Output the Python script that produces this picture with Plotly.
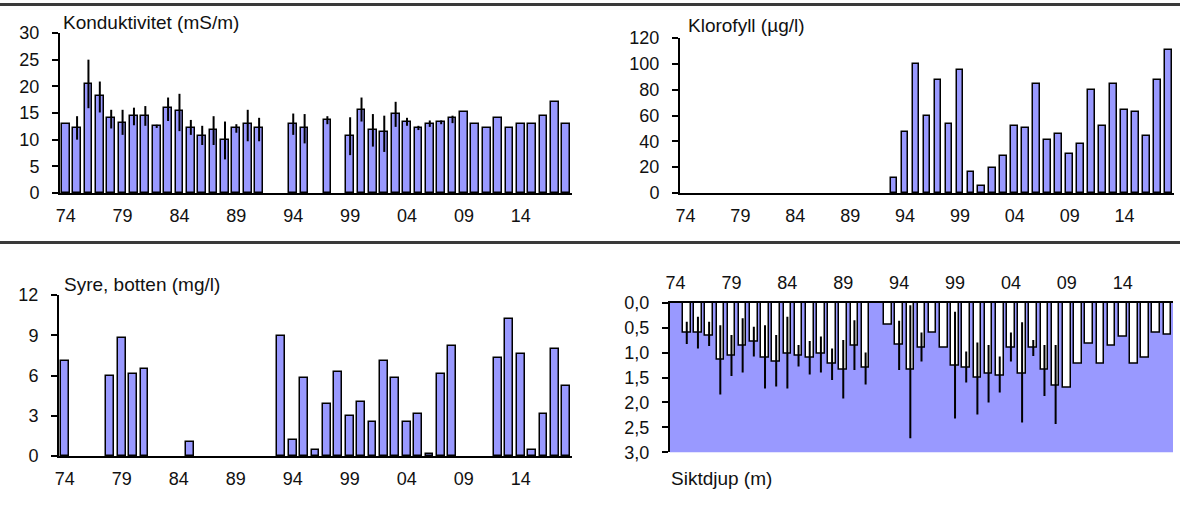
import plotly.graph_objects as go

# ---- data -------------------------------------------------------------
years = list(range(1974, 2019))
tick_years = [1974, 1979, 1984, 1989, 1994, 1999, 2004, 2009, 2014]
tick_text = ["74", "79", "84", "89", "94", "99", "04", "09", "14"]

# Konduktivitet (mS/m): mean, min, max per year
kond_mean = [12.9, 12.2, 20.5, 18.2, 14.1, 13.2, 14.4, 14.4, 12.5, 16.0,
             15.3, 12.2, 10.7, 11.8, 9.9, 12.2, 12.9, 12.2, None, None,
             12.9, 12.2, None, 13.7, None, 10.7, 15.6, 11.8, 11.4, 14.8,
             13.3, 12.2, 12.9, 13.3, 14.1, 15.2, 12.9, 12.2, 14.1, 12.2,
             12.9, 12.9, 14.4, 17.1, 12.9]
kond_min = [None, 10.0, 15.9, 15.1, 12.1, 10.9, 12.7, 12.6, 12.2, 13.5,
            11.6, 10.9, 9.0, 9.0, 6.3, 11.3, 9.7, 9.7, None, None,
            10.9, 9.3, None, 12.9, None, 7.1, 13.4, 8.7, 7.7, 12.4,
            12.6, 11.8, 12.4, 12.9, 13.1, None, None, None, None, None,
            None, None, None, None, None]
kond_max = [None, 14.4, 25.0, 20.9, 15.6, 15.6, 16.0, 16.3, 12.8, 17.9,
            18.6, 13.7, 12.6, 14.4, 13.4, 12.9, 15.6, 14.1, None, None,
            14.9, 14.8, None, 14.4, None, 14.2, 17.9, 14.8, 14.5, 17.1,
            14.1, 12.6, 13.6, 13.6, 14.5, None, None, None, None, None,
            None, None, None, None, None]

# Klorofyll (µg/l)
klorofyll = [None] * 19 + [11.6, 47.5, 100, 59.9, 87.7, 53.7, 95.5, 16.3,
                           5.2, 19.4, 28.9, 52.1, 50.6, 84.6, 41.3, 45.9,
                           30.5, 38.2, 80, 52.1, 84.6, 64.5, 63, 44.4,
                           87.7, 111]

# Syre, botten (mg/l)
syre = [7.06, None, None, None, 6.0, 8.83, 6.14, 6.47, None, None,
        None, 1.07, None, None, None, None, None, None, None, 8.98,
        1.22, 5.85, 0.42, 3.9, 6.29, 3.0, 4.05, 2.56, 7.06, 5.85,
        2.56, 3.16, 0.15, 6.14, 8.23, None, None, None, 7.34, 10.2,
        7.64, 0.42, 3.16, 7.94, 5.25]

# Siktdjup (m): mean, min, max per year
sikt_mean = [None, 0.61, 0.61, 0.67, 1.14, 1.06, 0.86, 0.78, 1.10, 1.18,
             1.03, 1.07, 1.10, 1.03, 1.23, 1.35, 0.86, 1.30, None, 0.45,
             0.85, 1.34, 0.90, 0.61, 0.90, 1.26, 1.30, 1.50, 1.42, 1.46,
             0.90, 1.42, 0.90, 1.34, 1.66, 1.70, 1.22, 0.82, 1.22, 0.86,
             0.69, 1.22, 1.10, 0.60, 0.65]
sikt_min = [None, 0.38, 0.28, 0.38, 0.45, 0.65, 0.31, 0.48, 0.45, 0.65,
            0.28, 0.85, 0.77, 0.68, 0.92, 0.75, 0.35, 1.00, None, None,
            0.36, 0.05, 0.60, None, None, 0.18, 0.98, 0.80, 0.85, 1.08,
            0.60, 0.39, 0.75, 0.85, 0.85, None, None, None, None, None,
            None, None, None, None, None]
sikt_max = [None, 0.83, 0.92, 0.87, 1.84, 1.47, 1.40, 1.08, 1.72, 1.68,
            1.72, 1.28, 1.44, 1.40, 1.55, 1.92, 1.35, 1.64, None, None,
            1.35, 2.72, 1.18, None, None, 2.32, 1.60, 2.24, 2.00, 1.80,
            1.18, 2.40, 1.07, 1.87, 2.43, None, None, None, None, None,
            None, None, None, None, None]

# ---- styling ----------------------------------------------------------
FONT = "Liberation Sans, Arial, sans-serif"
BAR_BLUE = "#9999ff"
W, H = 1180, 513


def err_up(mean, hi):
    return [h - m if (m is not None and h is not None) else None
            for m, h in zip(mean, hi)]


def err_down(mean, lo):
    return [m - l if (m is not None and l is not None) else None
            for m, l in zip(mean, lo)]


def px_x(v):
    return v / W


def px_y(v):
    return 1 - v / H


fig = go.Figure()

err_style = dict(type="data", symmetric=False, width=0, thickness=2, color="black")

fig.add_trace(go.Bar(
    x=years, y=kond_mean, xaxis="x", yaxis="y", width=0.68,
    marker=dict(color=BAR_BLUE, line=dict(color="black", width=1.5)),
    error_y=dict(array=err_up(kond_mean, kond_max),
                 arrayminus=err_down(kond_mean, kond_min), **err_style),
    showlegend=False))

fig.add_trace(go.Bar(
    x=years, y=klorofyll, xaxis="x2", yaxis="y2", width=0.62,
    marker=dict(color=BAR_BLUE, line=dict(color="black", width=1.5)),
    showlegend=False))

fig.add_trace(go.Bar(
    x=years, y=syre, xaxis="x3", yaxis="y3", width=0.68,
    marker=dict(color=BAR_BLUE, line=dict(color="black", width=1.5)),
    showlegend=False))

fig.add_trace(go.Bar(
    x=years, y=sikt_mean, xaxis="x4", yaxis="y4", width=0.68,
    marker=dict(color="white", line=dict(color="black", width=1.5)),
    error_y=dict(array=err_up(sikt_mean, sikt_max),
                 arrayminus=err_down(sikt_mean, sikt_min), **err_style),
    showlegend=False))

tick_font = dict(family=FONT, size=18, color="#111")


def xaxis(domain, anchor, side="bottom"):
    return dict(domain=domain, anchor=anchor, range=[1973.5, 2018.5],
                tickvals=tick_years, ticktext=tick_text, ticks="",
                showline=True, linecolor="black", linewidth=2,
                showgrid=False, zeroline=False, side=side, automargin=False,
                ticklabelstandoff=5, tickfont=tick_font, fixedrange=True)


def yaxis(domain, anchor, rng, tickvals, ticktext=None):
    d = dict(domain=domain, anchor=anchor, range=rng, tickvals=tickvals,
             ticks="outside", ticklen=6, tickwidth=1.5, tickcolor="black",
             showline=True, linecolor="black", linewidth=2, automargin=False,
             showgrid=False, zeroline=False, ticklabelstandoff=9,
             tickfont=tick_font, fixedrange=True)
    if ticktext is not None:
        d["ticktext"] = ticktext
    return d


fig.update_layout(
    width=W, height=H,
    margin=dict(l=0, r=0, t=0, b=0, pad=0, autoexpand=False),
    paper_bgcolor="white", plot_bgcolor="white",
    bargap=0,
    xaxis=xaxis([px_x(60), px_x(572)], "y"),
    yaxis=yaxis([px_y(193), px_y(33)], "x", [0, 30], [0, 5, 10, 15, 20, 25, 30]),
    xaxis2=xaxis([px_x(680), px_x(1174)], "y2"),
    yaxis2=yaxis([px_y(193), px_y(38)], "x2", [0, 120], [0, 20, 40, 60, 80, 100, 120]),
    xaxis3=xaxis([px_x(59), px_x(572)], "y3"),
    yaxis3=yaxis([px_y(456), px_y(295)], "x3", [0, 12], [0, 3, 6, 9, 12]),
    xaxis4=xaxis([px_x(670), px_x(1173)], "y4", side="top"),
    yaxis4=yaxis([px_y(452.3), px_y(302.7)], "x4", [3, 0],
                 [0, 0.5, 1, 1.5, 2, 2.5, 3],
                 ["0,0", "0,5", "1,0", "1,5", "2,0", "2,5", "3,0"]),
)

# filled background of the Secchi depth panel
fig.add_shape(type="rect", xref="x4 domain", yref="y4 domain",
              x0=0, x1=1, y0=0, y1=1, fillcolor=BAR_BLUE,
              line=dict(width=0), layer="below")

# horizontal rules separating the rows
for yy in (4.5, 242.5):
    fig.add_shape(type="line", xref="paper", yref="paper",
                  x0=0, x1=1, y0=px_y(yy), y1=px_y(yy),
                  line=dict(color="#3a3a3a", width=3))

title_font = dict(family=FONT, size=19, color="#111")
titles = [
    ("Konduktivitet (mS/m)", 61, 22),
    ("Klorofyll (µg/l)", 686, 25),
    ("Syre, botten (mg/l)", 62, 284),
    ("Siktdjup (m)", 669, 478),
]
for text, x, y in titles:
    fig.add_annotation(text=text, xref="paper", yref="paper",
                       x=px_x(x), y=px_y(y), xanchor="left", yanchor="middle",
                       showarrow=False, font=title_font)

fig.write_html("out.html")
